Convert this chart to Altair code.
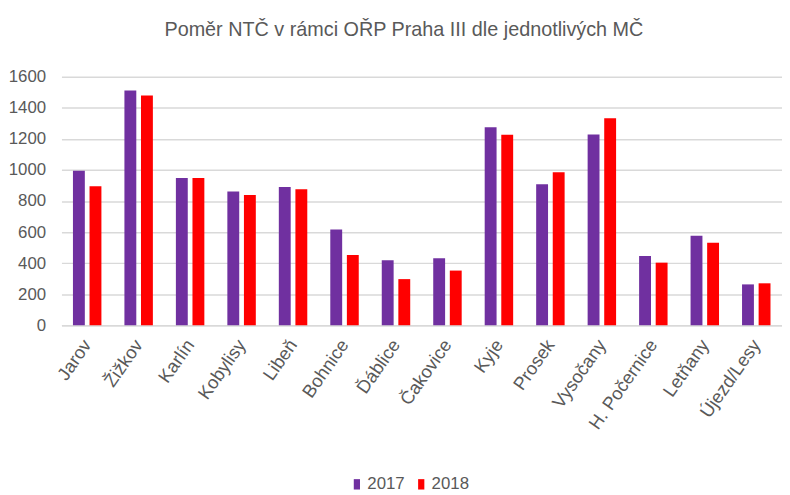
import altair as alt
import pandas as pd

categories = ["Jarov", "Žižkov", "Karlín", "Kobylisy", "Libeň", "Bohnice", "Ďáblice",
              "Čakovice", "Kyje", "Prosek", "Vysočany", "H. Počernice", "Letňany", "Újezd/Lesy"]
values_2017 = [995, 1511, 949, 862, 891, 617, 418, 431, 1275, 908, 1229, 446, 577, 263]
values_2018 = [895, 1479, 949, 838, 876, 452, 297, 352, 1227, 985, 1333, 403, 531, 270]
years = ["2017", "2018"]
colors = ["#7030A0", "#FF0000"]
y_ticks = [0, 200, 400, 600, 800, 1000, 1200, 1400, 1600]

rows = []
for i, c in enumerate(categories):
    rows.append({"MC": c, "rok": years[0], "hodnota": values_2017[i]})
    rows.append({"MC": c, "rok": years[1], "hodnota": values_2018[i]})
df = pd.DataFrame(rows)

font = "Liberation Sans"

chart = alt.Chart(df).mark_bar(size=12).encode(
    x=alt.X("MC:N", sort=categories, title=None,
            scale=alt.Scale(paddingInner=0.42, paddingOuter=0.21),
            axis=alt.Axis(labelAngle=-55, labelAlign="right", labelBaseline="middle",
                          labelFontSize=18.5, labelColor="#595959",
                          labelFont=font, ticks=False, domain=True, domainColor="#D9D9D9",
                          domainWidth=1.5, labelPadding=16, grid=False)),
    xOffset=alt.XOffset("rok:N", scale=alt.Scale(paddingInner=0.2)),
    y=alt.Y("hodnota:Q", title=None,
            scale=alt.Scale(domain=[0, 1600], nice=False),
            axis=alt.Axis(values=y_ticks, format="d", labelFontSize=17, labelColor="#595959",
                          labelFont=font, ticks=False, domain=False, gridColor="#D9D9D9",
                          gridWidth=1.5, labelPadding=16)),
    color=alt.Color("rok:N", scale=alt.Scale(domain=years, range=colors),
                    legend=alt.Legend(title=None, orient="none", direction="horizontal",
                                      legendX=290, legendY=403,
                                      symbolType="M-0.6,-1L0.6,-1L0.6,1L-0.6,1Z",
                                      symbolSize=110, symbolStrokeWidth=0,
                                      labelFontSize=17, labelColor="#595959", labelFont=font,
                                      columnPadding=8, labelOffset=2)),
).properties(
    width=728, height=251,
    title=alt.TitleParams("Poměr NTČ v rámci OŘP Praha III dle jednotlivých MČ",
                          fontSize=20, font=font, color="#595959", fontWeight="normal",
                          anchor="middle", offset=28, dx=-18),
    autosize=alt.AutoSizeParams(type="none"),
    padding={"left": 54, "top": 67, "right": 0, "bottom": 168},
).configure_view(stroke=None)

chart.save("out.html", embed_options={"renderer": "svg", "actions": False})
